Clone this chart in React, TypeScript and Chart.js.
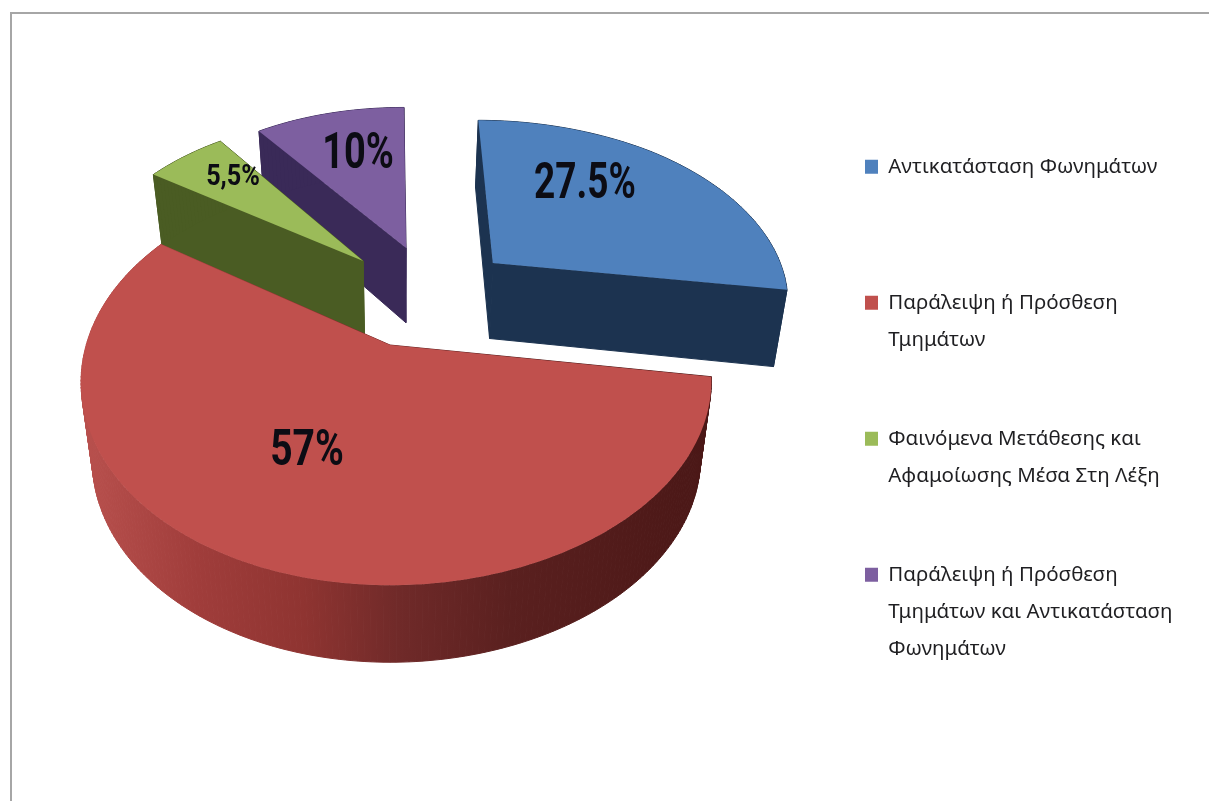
import React, { useEffect, useRef } from "react";
import { Chart, registerables } from "chart.js";

Chart.register(...registerables);

const categories: string[][] = [
  ["Αντικατάσταση Φωνημάτων", ""],
  ["Παράλειψη ή Πρόσθεση", "Τμημάτων"],
  ["Φαινόμενα Μετάθεσης και", "Αφαμοίωσης Μέσα Στη Λέξη"],
  ["Παράλειψη ή Πρόσθεση", "Τμημάτων και Αντικατάσταση", "Φωνημάτων"],
];
const shares: number[] = [27.5, 57, 5.5, 10];
const shareLabels: string[] = ["27.5%", "57%", "5,5%", "10%"];

const topColors = ["#4f81bd", "#c0504d", "#9bbb59", "#7d5fa0"];
const wallColors = ["#1c3350", "", "#4a5c23", "#3a2a58"];
// how far each slice is pulled out, in units of the pie radius on the pie's plane
const explodeU = [0.356, 0, -0.094, 0.057];
const explodeV = [-0.45, 0, -0.4625, -0.54];
const sliceRadius = [0.985, 1, 1, 1];
// x, y, font size, horizontal text scale
const labelAnchors: [number, number, number, number][] = [
  [585, 185, 50, 0.74],
  [307, 452, 50, 0.78],
  [233, 177, 30, 0.84],
  [358, 155, 50, 0.76],
];
const drawOrder = [3, 2, 0, 1];

// perspective view of the pie plane
const OX = 390, OY = 345, RX = 310, RY = 197, PERSP = 0.18, BOW = 0.02;
const DEPTH = 77, LOWER_X0 = 400, LOWER_SCALE = 0.965;

function project(u: number, v: number): [number, number] {
  const w = 1 / (1 - PERSP * v);
  const bowed = u + BOW * Math.min(u * u, 1);
  return [OX + RX * bowed * w, OY + RY * v * w];
}

function lower(p: [number, number], v: number): [number, number] {
  const w = 1 / (1 - PERSP * v);
  const d = w < 0.95 ? DEPTH - (0.95 - w) * 60 : DEPTH;
  return [LOWER_X0 + (p[0] - LOWER_X0) * LOWER_SCALE, p[1] + d];
}

const pie3d = {
  id: "pie3d",
  afterLayout(chart: any) {
    const lg = chart.legend;
    lg.left = 803;
    lg.right = 1209;
    lg.top = 94.5;
    lg.bottom = 801;
  },
  beforeDraw(chart: any) {
    const { ctx } = chart;
    ctx.save();
    ctx.fillStyle = "#ffffff";
    ctx.fillRect(0, 0, 1209, 801);
    ctx.fillStyle = "#a6a6a6";
    ctx.fillRect(10, 12, 1199, 2);
    ctx.fillRect(10, 12, 2, 789);
    ctx.restore();
  },
  beforeDatasetDraw(chart: any) {
    const { ctx } = chart;
    const arcs = chart.getDatasetMeta(0).data;
    const redWall = ctx.createLinearGradient(85, 0, 710, 0);
    redWall.addColorStop(0, "#b8504d");
    redWall.addColorStop(0.18, "#a03d3b");
    redWall.addColorStop(0.35, "#8f3431");
    redWall.addColorStop(0.5, "#702a29");
    redWall.addColorStop(0.68, "#5a201f");
    redWall.addColorStop(1, "#4a1716");
    ctx.save();
    for (const i of drawOrder) {
      const a = arcs[i];
      const start = a.startAngle, end = a.endAngle;
      const cu = explodeU[i];
      const cv = explodeV[i];
      const r = sliceRadius[i];
      const plane: [number, number][] = [[cu, cv]];
      const n = Math.max(4, Math.ceil((end - start) / 0.0175));
      for (let k = 0; k <= n; k++) {
        const t = start + ((end - start) * k) / n;
        plane.push([cu + r * Math.cos(t), cv + r * Math.sin(t)]);
      }
      const topPts = plane.map((p) => project(p[0], p[1]));
      const lowPts = topPts.map((p, k) => lower(p, plane[k][1]));
      const wall = wallColors[i] || redWall;
      ctx.fillStyle = wall;
      ctx.strokeStyle = wall;
      ctx.lineWidth = 1;
      for (let k = 0; k < topPts.length; k++) {
        const j = (k + 1) % topPts.length;
        ctx.beginPath();
        ctx.moveTo(topPts[k][0], topPts[k][1]);
        ctx.lineTo(topPts[j][0], topPts[j][1]);
        ctx.lineTo(lowPts[j][0], lowPts[j][1]);
        ctx.lineTo(lowPts[k][0], lowPts[k][1]);
        ctx.closePath();
        ctx.fill();
        ctx.stroke();
      }
      ctx.fillStyle = a.options.backgroundColor;
      ctx.beginPath();
      topPts.forEach((p, k) => (k ? ctx.lineTo(p[0], p[1]) : ctx.moveTo(p[0], p[1])));
      ctx.closePath();
      ctx.fill();
    }
    ctx.restore();
    return false;
  },
  afterDatasetsDraw(chart: any) {
    const { ctx } = chart;
    ctx.save();
    ctx.textAlign = "center";
    ctx.textBaseline = "middle";
    ctx.fillStyle = "#0c0c14";
    shareLabels.forEach((s, i) => {
      const [x, y, size, sx] = labelAnchors[i];
      ctx.save();
      ctx.translate(x, y);
      ctx.scale(sx, 1);
      ctx.font = `700 ${size}px Roboto, sans-serif`;
      ctx.fillText(s, 0, 0);
      ctx.restore();
    });
    ctx.restore();
  },
};

export default function App() {
  const ref = useRef<HTMLCanvasElement>(null);
  useEffect(() => {
    const chart = new Chart(ref.current!, {
      type: "pie",
      data: {
        labels: categories as any,
        datasets: [{ data: shares, backgroundColor: topColors, borderWidth: 0 }],
      },
      options: {
        responsive: false,
        animation: false,
        rotation: 0,
        layout: { padding: 0 },
        plugins: {
          tooltip: { enabled: false },
          legend: {
            position: "right",
            align: "start",
            labels: {
              boxWidth: 13,
              boxHeight: 14,
              padding: 62,
              color: "#1f1f22",
              font: { family: '"Noto Sans", "Open Sans", sans-serif', size: 20.5, lineHeight: 37 / 20.5 },
            },
          },
        },
      },
      plugins: [pie3d],
    } as any);
    return () => chart.destroy();
  }, []);
  return (
    <canvas
      ref={ref}
      width={1209}
      height={801}
      style={{ position: "fixed", left: 0, top: 0, width: 1209, height: 801 }}
    />
  );
}
